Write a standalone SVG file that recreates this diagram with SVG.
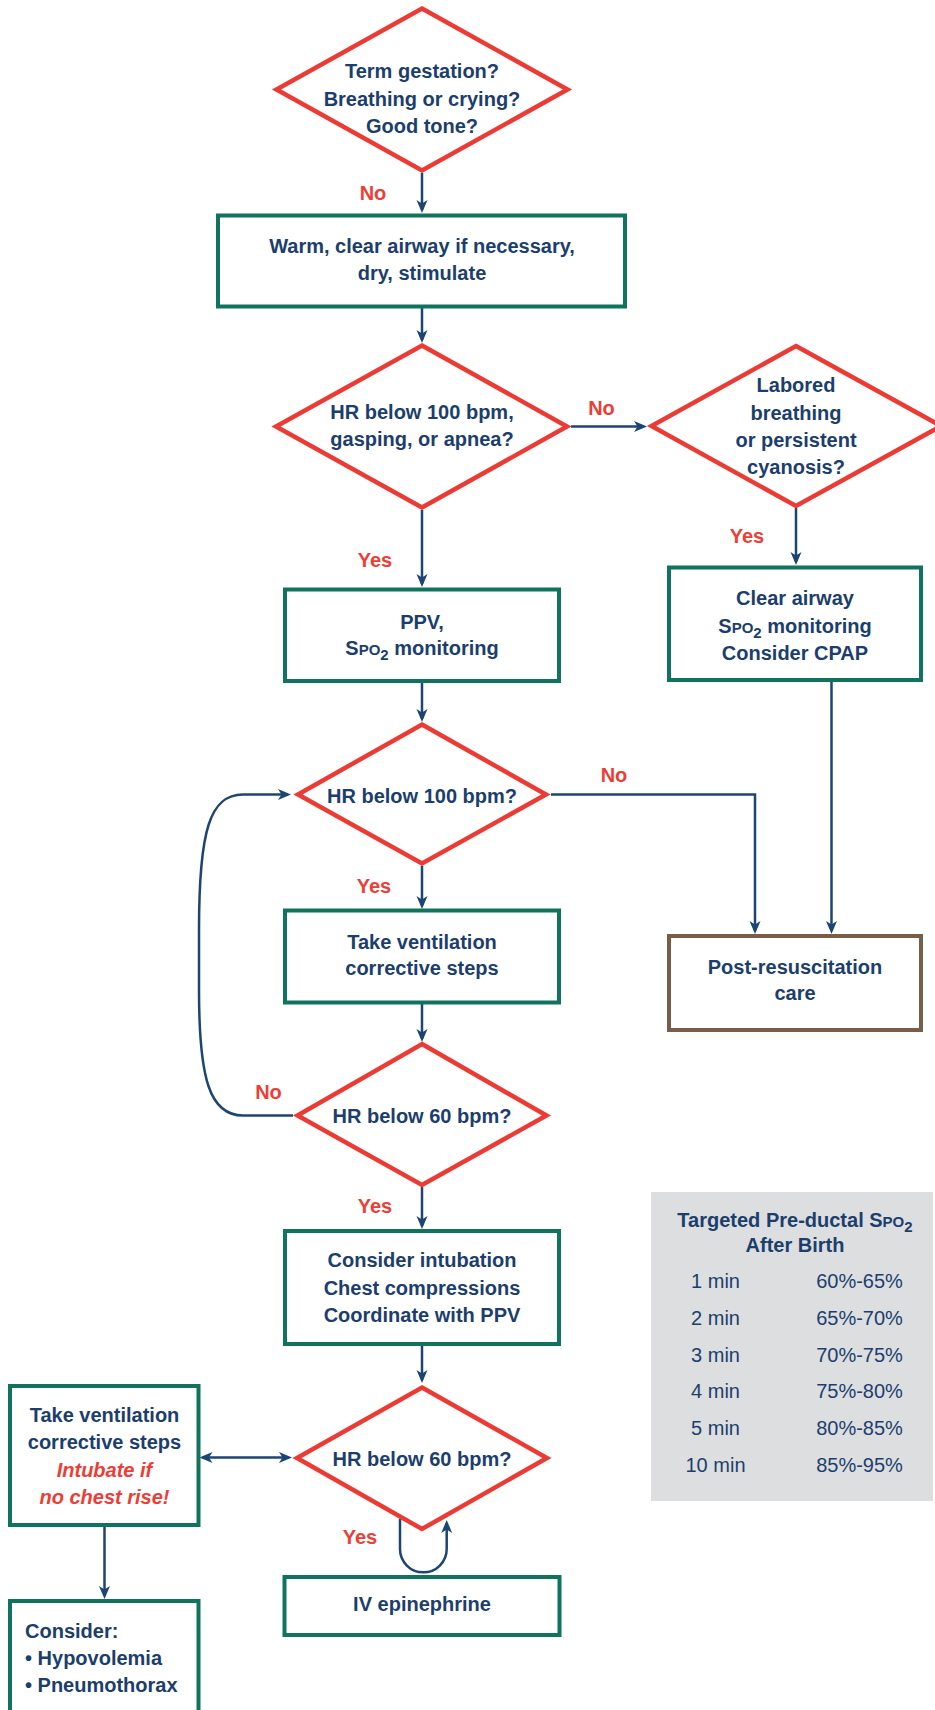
<svg xmlns="http://www.w3.org/2000/svg" width="935" height="1710" viewBox="0 0 935 1710">
<style>
.t{font-family:"Liberation Sans",Arial,sans-serif;font-weight:bold;font-size:20px;fill:#1c3e6d;text-anchor:middle}
.n{font-weight:normal}
.s{text-anchor:start}
.lbl{font-family:"Liberation Sans",Arial,sans-serif;font-weight:bold;font-size:20px;fill:#ee3d36;text-anchor:middle}
.it{fill:#ee3d36;font-style:italic}
.dia{fill:#fff;stroke:#ec3b34;stroke-width:4.5}
.box{fill:#fff;stroke:#10735e;stroke-width:4}
.brown{stroke:#7a5d46}
.con{fill:none;stroke:#1d4573;stroke-width:2.5}
.arr{marker-end:url(#ah)}
</style>
<defs>
<marker id="ah" markerUnits="userSpaceOnUse" viewBox="0 0 13 12" refX="10" refY="6" markerWidth="13" markerHeight="12" orient="auto-start-reverse">
<path d="M0,0.5 L13,6 L0,11.5 L3.5,6 Z" fill="#1d4573"/>
</marker>
</defs>
<rect x="0" y="0" width="935" height="1710" fill="#fff"/>

<g id="connectors">
<path class="con arr" d="M422,173 V210"/>
<path class="con arr" d="M422,307 V340"/>
<path class="con arr" d="M571,426.5 H644"/>
<path class="con arr" d="M422,510 V584"/>
<path class="con arr" d="M796,508 V562"/>
<path class="con arr" d="M831.5,681 V931"/>
<path class="con arr" d="M422,681 V719"/>
<path class="con arr" d="M551,794.5 H755 V931"/>
<path class="con arr" d="M422,866 V906"/>
<path class="con arr" d="M422,1003 V1039"/>
<path class="con arr" d="M293,1115.5 H243 C210,1115.5 199,1080 199,990 V930 C199,830 210,794.5 243,794.5 H288"/>
<path class="con arr" d="M422,1187 V1226"/>
<path class="con arr" d="M422,1344 V1380"/>
<path class="con" d="M202.5,1457.5 H289" marker-start="url(#ah)" marker-end="url(#ah)"/>
<path class="con arr" d="M104.5,1525 V1596"/>
<path class="con arr" d="M400,1519 V1549 A23.35,23.35 0 0 0 446.7,1549 V1523"/>
</g>

<g id="labels">
<text class="lbl" x="373" y="200">No</text>
<text class="lbl" x="601.5" y="415">No</text>
<text class="lbl" x="375" y="567">Yes</text>
<text class="lbl" x="747" y="543">Yes</text>
<text class="lbl" x="614" y="782">No</text>
<text class="lbl" x="374" y="893">Yes</text>
<text class="lbl" x="268.5" y="1098.5">No</text>
<text class="lbl" x="375" y="1213">Yes</text>
<text class="lbl" x="360" y="1543.5">Yes</text>
</g>

<g id="d1">
<polygon class="dia" points="422,8.5 567.5,89.5 422,170.5 276.5,89.5"/>
<text class="t" x="422" y="77.5">Term gestation?</text>
<text class="t" x="422" y="105.5">Breathing or crying?</text>
<text class="t" x="422" y="133">Good tone?</text>
</g>

<g id="b1">
<rect class="box" x="218" y="215.5" width="407" height="91"/>
<text class="t" x="422" y="252.5">Warm, clear airway if necessary,</text>
<text class="t" x="422" y="280">dry, stimulate</text>
</g>

<g id="d2">
<polygon class="dia" points="422,345.5 567,426.5 422,507.5 276,426.5"/>
<text class="t" x="422" y="419">HR below 100 bpm,</text>
<text class="t" x="422" y="446">gasping, or apnea?</text>
</g>

<g id="d3">
<polygon class="dia" points="796,346 941,426 796,506 651.5,426"/>
<text class="t" x="796" y="391.5">Labored</text>
<text class="t" x="796" y="419.5">breathing</text>
<text class="t" x="796" y="446.5">or persistent</text>
<text class="t" x="796" y="474">cyanosis?</text>
</g>

<g id="b_ppv">
<rect class="box" x="285" y="589.5" width="274" height="91.5"/>
<text class="t" x="422" y="628.5">PPV,</text>
<text class="t" x="422" y="655">S<tspan font-size="15">PO</tspan><tspan font-size="15" dy="5">2</tspan><tspan dy="-5"> monitoring</tspan></text>
</g>

<g id="b_clear">
<rect class="box" x="669" y="567.5" width="252" height="112.5"/>
<text class="t" x="795" y="605">Clear airway</text>
<text class="t" x="795" y="633">S<tspan font-size="15">PO</tspan><tspan font-size="15" dy="5">2</tspan><tspan dy="-5"> monitoring</tspan></text>
<text class="t" x="795" y="660">Consider CPAP</text>
</g>

<g id="d4">
<polygon class="dia" points="422,724.5 546,794.5 422,863.5 298,794.5"/>
<text class="t" x="422" y="802.5">HR below 100 bpm?</text>
</g>

<g id="b_post">
<rect class="box brown" x="669" y="936" width="252" height="94"/>
<text class="t" x="795" y="973.5">Post-resuscitation</text>
<text class="t" x="795" y="1000">care</text>
</g>

<g id="b_vent">
<rect class="box" x="285" y="910.5" width="274" height="92"/>
<text class="t" x="422" y="948.5">Take ventilation</text>
<text class="t" x="422" y="975">corrective steps</text>
</g>

<g id="d5">
<polygon class="dia" points="422,1044 546.5,1115.5 422,1185 297.5,1115.5"/>
<text class="t" x="422" y="1123">HR below 60 bpm?</text>
</g>

<g id="b_intub">
<rect class="box" x="285" y="1231" width="274" height="113"/>
<text class="t" x="422" y="1267">Consider intubation</text>
<text class="t" x="422" y="1294.5">Chest compressions</text>
<text class="t" x="422" y="1322">Coordinate with PPV</text>
</g>

<g id="table">
<rect x="651" y="1192" width="282" height="309" fill="#dcdee0"/>
<text class="t" x="795" y="1227">Targeted Pre-ductal S<tspan font-size="15">PO</tspan><tspan font-size="15" dy="5">2</tspan></text>
<text class="t" x="795" y="1252">After Birth</text>
<text class="t n" x="715.5" y="1288">1 min</text>
<text class="t n" x="859.5" y="1288">60%-65%</text>
<text class="t n" x="715.5" y="1325">2 min</text>
<text class="t n" x="859.5" y="1325">65%-70%</text>
<text class="t n" x="715.5" y="1361.5">3 min</text>
<text class="t n" x="859.5" y="1361.5">70%-75%</text>
<text class="t n" x="715.5" y="1398">4 min</text>
<text class="t n" x="859.5" y="1398">75%-80%</text>
<text class="t n" x="715.5" y="1435">5 min</text>
<text class="t n" x="859.5" y="1435">80%-85%</text>
<text class="t n" x="715.5" y="1471.5">10 min</text>
<text class="t n" x="859.5" y="1471.5">85%-95%</text>
</g>

<g id="d6">
<polygon class="dia" points="422,1387.5 547,1458 422,1529 297,1458"/>
<text class="t" x="422" y="1465.5">HR below 60 bpm?</text>
</g>

<g id="b_vent2">
<rect class="box" x="10" y="1386" width="188.5" height="139"/>
<text class="t" x="104.5" y="1421.5">Take ventilation</text>
<text class="t" x="104.5" y="1448.5">corrective steps</text>
<text class="t it" x="104.5" y="1476.5">Intubate if</text>
<text class="t it" x="104.5" y="1504">no chest rise!</text>
</g>

<g id="b_epi">
<rect class="box" x="284.5" y="1577" width="275" height="58"/>
<text class="t" x="422" y="1611">IV epinephrine</text>
</g>

<g id="b_consider">
<rect class="box" x="10" y="1601" width="188.5" height="115"/>
<text class="t s" x="25" y="1638">Consider:</text>
<text class="t s" x="25" y="1665">• Hypovolemia</text>
<text class="t s" x="25" y="1692">• Pneumothorax</text>
</g>
</svg>
